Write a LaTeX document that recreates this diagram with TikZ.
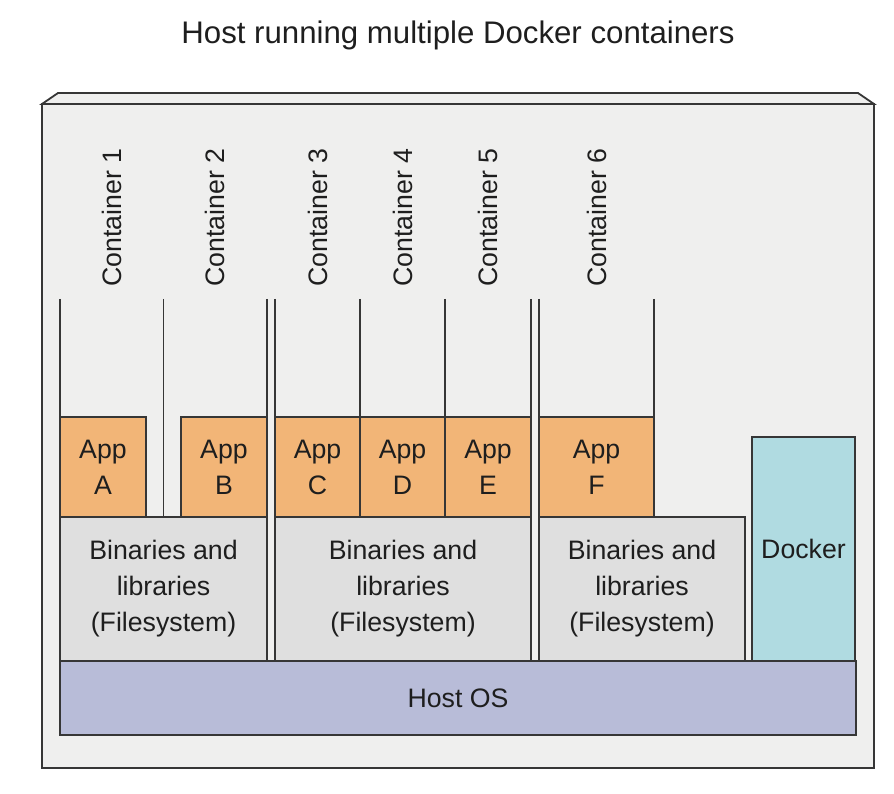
\documentclass[tikz,border=0pt]{standalone}
\usepackage{fontspec}
\setmainfont{Liberation Sans}
\newcommand\dbody{\fontsize{26.7}{36}\selectfont}
\newcommand\dtitle{\fontsize{31.2}{38}\selectfont}
\definecolor{bg}{HTML}{EFEFEE}
\definecolor{appc}{HTML}{F2B577}
\definecolor{binc}{HTML}{DFDFDF}
\definecolor{dockc}{HTML}{B0DBE1}
\definecolor{hostc}{HTML}{B8BCD8}
\definecolor{linec}{HTML}{363636}
\definecolor{txt}{HTML}{1E1E1E}
\begin{document}
\begin{tikzpicture}[x=1pt,y=-1pt,
  box/.style={draw=linec, line width=1.8pt, inner sep=0pt, outer sep=0pt, align=center, text=txt, font=\dbody},
  appbox/.style={box, fill=appc, minimum height=100pt},
  binbox/.style={box, fill=binc, minimum height=144pt},
  clabel/.style={rotate=90, anchor=west, inner sep=0pt, text=txt, font=\dbody},
  wall/.style={draw=linec, line width=1.8pt}]
\useasboundingbox (0,0) rectangle (894,794);
\node[text=txt, font=\dtitle] (title) at (458,35) {Host running multiple Docker containers};
% outer host box
\draw[wall, fill=bg, line join=miter] (42,104) -- (58,93) -- (858,93) -- (874,104) -- cycle;
\node[box, fill=bg, minimum width=832pt, minimum height=664pt] (hostbox) at (458,436) {};
% container walls
\foreach \x in {60,163.5,267,275,360,445,531,539,654}
  \draw[wall] (\x,299) -- (\x,517);
% container labels
\node[clabel] (c1) at (112,287) {Container 1};
\node[clabel] (c2) at (215,287) {Container 2};
\node[clabel] (c3) at (317.5,287) {Container 3};
\node[clabel] (c4) at (402.5,287) {Container 4};
\node[clabel] (c5) at (488,287) {Container 5};
\node[clabel] (c6) at (596.5,287) {Container 6};
% apps
\node[appbox, minimum width=86pt] (appA) at (103,467) {App\\A};
\node[appbox, minimum width=86pt] (appB) at (224,467) {App\\B};
\node[appbox, minimum width=85pt] (appC) at (317.5,467) {App\\C};
\node[appbox, minimum width=85pt] (appD) at (402.5,467) {App\\D};
\node[appbox, minimum width=86pt] (appE) at (488,467) {App\\E};
\node[appbox, minimum width=115pt] (appF) at (596.5,467) {App\\F};
% binaries
\node[binbox, minimum width=207pt] (bin1) at (163.5,589) {Binaries and\\libraries\\(Filesystem)};
\node[binbox, minimum width=256pt] (bin2) at (403,589) {Binaries and\\libraries\\(Filesystem)};
\node[binbox, minimum width=206pt] (bin3) at (642,589) {Binaries and\\libraries\\(Filesystem)};
% docker
\node[box, fill=dockc, minimum width=103pt, minimum height=224pt] (docker) at (803.5,549) {Docker};
% host os
\node[box, fill=hostc, minimum width=796pt, minimum height=74pt] (hostos) at (458,698) {Host OS};
\end{tikzpicture}
\end{document}
